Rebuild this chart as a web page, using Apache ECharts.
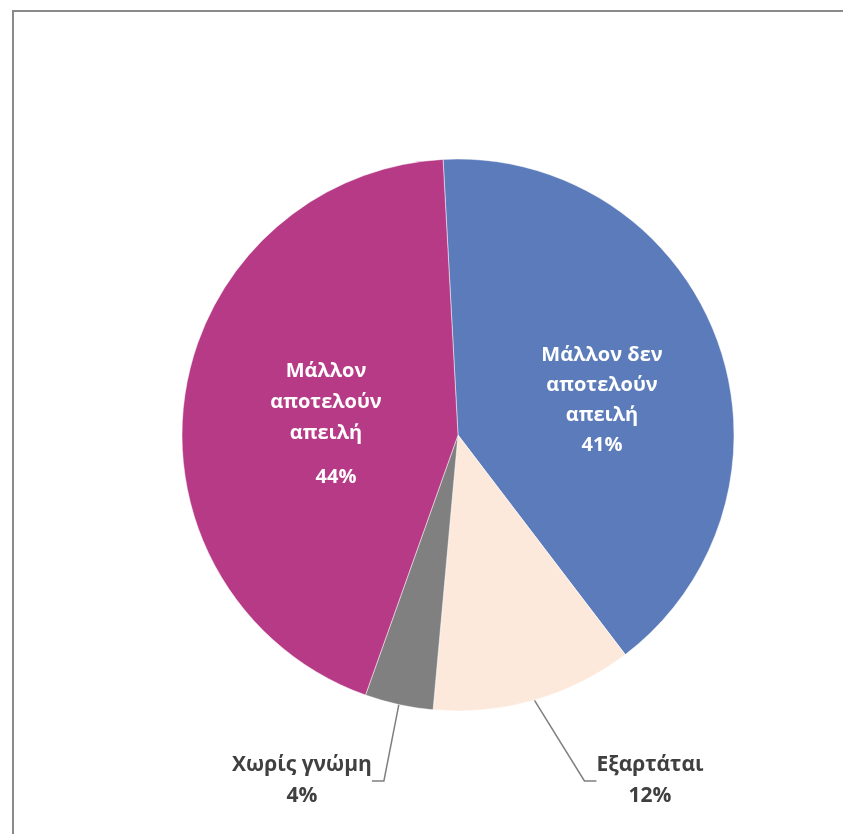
<!DOCTYPE html>
<html>
<head>
<meta charset="utf-8">
<style>
  html, body { margin: 0; padding: 0; background: #ffffff; }
  #chart { width: 843px; height: 834px; }
</style>
<script src="https://cdn.jsdelivr.net/npm/echarts@6/dist/echarts.min.js"></script>
</head>
<body>
<div id="chart"></div>
<script>
// Data (percent of respondents)
const categories = ['Μάλλον δεν αποτελούν απειλή', 'Εξαρτάται', 'Χωρίς γνώμη', 'Μάλλον αποτελούν απειλή'];
const values = [40.5, 11.8, 4.0, 43.7];
const shownPercents = ['41%', '12%', '4%', '44%'];
const labelNames = ['Μάλλον δεν\nαποτελούν\nαπειλή', 'Εξαρτάται', 'Χωρίς γνώμη', 'Μάλλον\nαποτελούν\nαπειλή'];
const colors = ['#5b7bba', '#fde9dc', '#808080', '#b73a87'];

const FONT = '"Open Sans", "Noto Sans", sans-serif';

const insideLabel = {
  show: true,
  position: 'inside',
  color: '#ffffff',
  fontFamily: FONT,
  fontWeight: 'bold',
  fontSize: 20,
  lineHeight: 30,
  align: 'center'
};
const outsideLabel = {
  show: true,
  position: 'outside',
  color: '#404040',
  fontFamily: FONT,
  fontWeight: 'bold',
  fontSize: 21,
  lineHeight: 31,
  align: 'center'
};

const data = categories.map((name, i) => {
  const item = { name: name, value: values[i], itemStyle: { color: colors[i] } };
  if (i === 0) {
    item.label = Object.assign({}, insideLabel, {
      formatter: labelNames[i] + '\n' + shownPercents[i]
    });
  } else if (i === 3) {
    item.label = Object.assign({}, insideLabel, {
      lineHeight: 31,
      formatter: labelNames[i] + '\n{p|' + shownPercents[i] + '}',
      rich: { p: { color: '#ffffff', fontFamily: FONT, fontWeight: 'bold', fontSize: 20, lineHeight: 48, padding: [10, 0, 0, 20] } }
    });
  } else {
    item.label = Object.assign({}, outsideLabel, {
      formatter: labelNames[i] + '\n' + shownPercents[i]
    });
    item.labelLine = { show: true, length: 20, length2: 12, lineStyle: { color: '#7f7f7f', width: 1.5 } };
  }
  return item;
});

const chart = echarts.init(document.getElementById('chart'), null, { renderer: 'canvas' });
chart.setOption({
  backgroundColor: '#ffffff',
  animation: false,
  graphic: [{
    type: 'rect',
    shape: { x: 13, y: 11, width: 900, height: 900 },
    style: { fill: 'none', stroke: '#8a8a8a', lineWidth: 2 },
    silent: true,
    z: -10
  }],
  series: [{
    type: 'pie',
    center: [458, 435],
    radius: [0, 276],
    startAngle: 93.1,
    clockwise: true,
    avoidLabelOverlap: false,
    itemStyle: { borderColor: 'rgba(255,255,255,0.6)', borderWidth: 0.8 },
    emphasis: { disabled: true },
    data: data,
    labelLayout: function (params) {
      switch (params.dataIndex) {
        case 0: return { x: 602, y: 400, align: 'center', verticalAlign: 'middle' };
        case 1: return { x: 650, y: 781, align: 'center', verticalAlign: 'middle' };
        case 2: return { x: 302, y: 781, align: 'center', verticalAlign: 'middle' };
        case 3: return { x: 326, y: 426, align: 'center', verticalAlign: 'middle' };
      }
    }
  }]
});
</script>
</body>
</html>
